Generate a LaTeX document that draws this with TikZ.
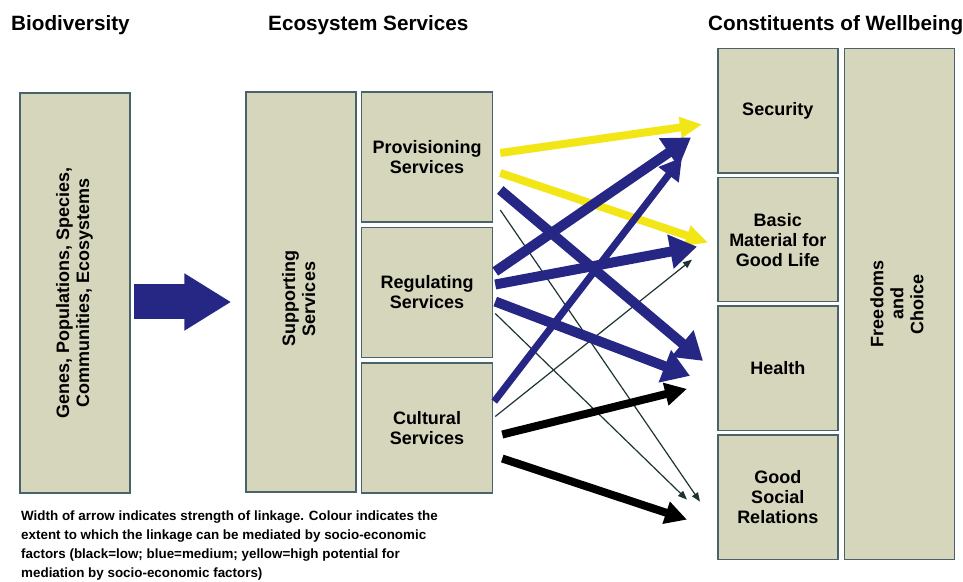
\documentclass[tikz,border=0pt]{standalone}
\usepackage{fontspec}
\setmainfont{Liberation Sans}
\usetikzlibrary{arrows.meta,positioning}

\definecolor{boxfill}{RGB}{214,214,188}
\definecolor{boxline}{RGB}{72,100,106}
\definecolor{linkblue}{RGB}{38,38,132}
\definecolor{linkyellow}{RGB}{242,230,22}
\definecolor{thinline}{RGB}{30,52,52}

\begin{document}
\begin{tikzpicture}[x=1pt,y=1pt,
   every node/.style={font=\bfseries\fontsize{18}{20}\selectfont,align=center,inner sep=0pt},
   heading/.style={font=\bfseries\fontsize{20.7}{24}\selectfont,anchor=base west},
   colbox/.style={draw=boxline,fill=boxfill,line width=1.5pt,minimum width=110pt,minimum height=400pt},
   svcbox/.style={draw=boxline,fill=boxfill,line width=1.5pt,minimum width=131pt,minimum height=130pt},
   wbbox/.style={draw=boxline,fill=boxfill,line width=1.5pt,minimum width=120pt,minimum height=124.25pt},
   yellowlink/.style={linkyellow,line width=8pt,-{Triangle[length=22pt,width=20pt]}},
   bluelink/.style={linkblue,line width=10pt,-{Triangle[length=27pt,width=33pt]}},
   bluemid/.style={linkblue,line width=7pt,-{Triangle[length=22pt,width=24pt]}},
   blacklink/.style={black,line width=8pt,-{Triangle[length=22pt,width=22pt]}},
   thinlink/.style={thinline,line width=1.2pt,-{Triangle[length=9pt,width=7pt]}},
   bigarrow/.style={linkblue,line width=35pt,-{Triangle[length=47pt,width=54pt]}}]

\useasboundingbox (0,0) rectangle (963,581);

% headings
\node[heading] (bdtitle) at (11,550) {Biodiversity};
\node[heading] (estitle) at (268,550) {Ecosystem Services};
\node[heading] (cwtitle) at (708,550) {Constituents of Wellbeing};

% biodiversity and services
\node[colbox] (biodiv) at (75,288)
   {\rotatebox{90}{\begin{tabular}{@{}c@{}}Genes, Populations, Species,\\ Communities, Ecosystems\end{tabular}}};
\node[colbox] (supporting) at (301,289)
   {\rotatebox{90}{\begin{tabular}{@{}c@{}}Supporting\\ Services\end{tabular}\hspace{14pt}}};
\node[svcbox,right=4pt of supporting.north east,anchor=north west] (provisioning) {Provisioning\\ Services};
\node[svcbox,below=4pt of provisioning] (regulating) {Regulating\\ Services};
\node[svcbox,below=4pt of regulating] (cultural) {Cultural\\ Services};

% constituents of wellbeing
\node[wbbox,anchor=north west] (security) at (717,533) {Security};
\node[wbbox,below=3pt of security] (material) {Basic\\ Material for\\ Good Life};
\node[wbbox,below=3pt of material] (health) {Health};
\node[wbbox,below=3pt of health] (social) {Good\\ Social\\ Relations};
\node[colbox,minimum height=510.5pt,right=5pt of security.north east,anchor=north west] (freedoms)
   {\rotatebox{90}{\begin{tabular}{@{}c@{}}Freedoms\\ and\\ Choice\end{tabular}}};

\draw[bigarrow] ([shift={(3,-9)}]biodiv.east) -- ([shift={(-14,-10)}]supporting.west);

% linkages
\draw[yellowlink] ([shift={(7,4)}]provisioning.east) -- ([shift={(-15,-13.5)}]security.west);
\draw[yellowlink] ([shift={(7,-16)}]provisioning.east) -- ([shift={(-9,-3)}]material.west);
\draw[thinlink] ([shift={(7,-53)}]provisioning.east) -- ([shift={(-17,-4.5)}]social.west);
\draw[thinlink] ([shift={(2,-21)}]regulating.east) -- ([shift={(-30,-2.5)}]social.west);
\draw[thinlink] ([shift={(2,11.5)}]cultural.east) -- ([shift={(-25,-20)}]material.west);
\draw[bluelink] ([shift={(7,-33)}]provisioning.east) -- ([shift={(-14,7.5)}]health.west);
\draw[bluelink] ([shift={(2,21)}]regulating.east) -- ([shift={(-26,-26.5)}]security.west);
\draw[bluelink] ([shift={(2,8)}]regulating.east) -- ([shift={(-20,-7)}]material.west);
\draw[bluelink] ([shift={(2,-9)}]regulating.east) -- ([shift={(-27,-7.5)}]health.west);
\draw[bluemid] ([shift={(1,26.5)}]cultural.east) -- ([shift={(-35,-46.5)}]security.west);
\draw[blacklink] ([shift={(9,-6.5)}]cultural.east) -- ([shift={(-30,-20.5)}]health.west);
\draw[blacklink] ([shift={(9,-30.5)}]cultural.east) -- ([shift={(-30,-22.5)}]social.west);

\node[anchor=north west,align=left,font=\bfseries\fontsize{13.4}{18.7}\selectfont] (legend) at (21,70)
   {Width of arrow indicates strength of linkage. Colour indicates the\\
    extent to which the linkage can be mediated by socio-economic\\
    factors (black=low; blue=medium; yellow=high potential for\\
    mediation by socio-economic factors)};

\end{tikzpicture}
\end{document}
